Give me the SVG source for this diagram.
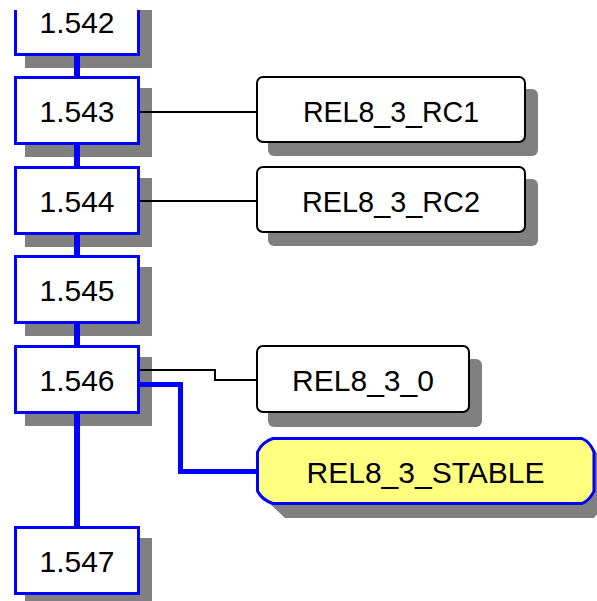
<svg xmlns="http://www.w3.org/2000/svg" width="597" height="601" viewBox="0 0 597 601">
  <defs>
    <clipPath id="view">
      <rect x="0" y="10" width="597" height="591"/>
    </clipPath>
    <style>
      .shadow { fill: #808080; }
      .rev { fill: #ffffff; stroke: #0000ff; stroke-width: 3; }
      .tag { fill: #ffffff; stroke: #000000; stroke-width: 2; }
      .branch { fill: #ffff80; stroke: #0000ff; stroke-width: 3; stroke-linejoin: round; }
      .label { font-family: "Liberation Sans", Arial, sans-serif; font-size: 30px; fill: #000000; text-anchor: middle; }
      .trunk { stroke: #0000ff; stroke-width: 6; fill: none; }
      .taglink { stroke: #000000; stroke-width: 2; fill: none; }
      .branchlink { stroke: #0000ff; stroke-width: 5; fill: none; }
    </style>
  </defs>
  <rect x="0" y="0" width="597" height="601" fill="#ffffff"/>
  <g clip-path="url(#view)">
    <!-- revisions -->
    <g id="rev-1.542">
      <rect class="shadow" x="25" y="-1" width="127" height="69"/>
      <rect class="rev" x="15.5" y="-11.5" width="123" height="66"/>
      <text class="label" x="77" y="33">1.542</text>
    </g>
    <g id="rev-1.543">
      <rect class="shadow" x="25" y="88" width="127" height="69"/>
      <rect class="rev" x="15.5" y="77.5" width="123" height="66"/>
      <text class="label" x="77" y="122">1.543</text>
    </g>
    <g id="rev-1.544">
      <rect class="shadow" x="25" y="178" width="127" height="69"/>
      <rect class="rev" x="15.5" y="167.5" width="123" height="66"/>
      <text class="label" x="77" y="212">1.544</text>
    </g>
    <g id="rev-1.545">
      <rect class="shadow" x="25" y="267" width="127" height="69"/>
      <rect class="rev" x="15.5" y="256.5" width="123" height="66"/>
      <text class="label" x="77" y="301">1.545</text>
    </g>
    <g id="rev-1.546">
      <rect class="shadow" x="25" y="357" width="127" height="69"/>
      <rect class="rev" x="15.5" y="346.5" width="123" height="66"/>
      <text class="label" x="77" y="391">1.546</text>
    </g>
    <g id="rev-1.547">
      <rect class="shadow" x="25" y="538" width="127" height="69"/>
      <rect class="rev" x="15.5" y="527.5" width="123" height="66"/>
      <text class="label" x="77" y="572">1.547</text>
    </g>

    <!-- tags -->
    <g id="tag-REL8_3_RC1">
      <rect class="shadow" x="268" y="89" width="270" height="67" rx="6"/>
      <rect class="tag" x="257" y="77" width="268" height="65" rx="6"/>
      <text class="label" x="391" y="122" textLength="176" lengthAdjust="spacingAndGlyphs">REL8_3_RC1</text>
    </g>
    <g id="tag-REL8_3_RC2">
      <rect class="shadow" x="268" y="179" width="270" height="67" rx="6"/>
      <rect class="tag" x="257" y="167" width="268" height="65" rx="6"/>
      <text class="label" x="391" y="212" textLength="178" lengthAdjust="spacingAndGlyphs">REL8_3_RC2</text>
    </g>
    <g id="tag-REL8_3_0">
      <rect class="shadow" x="268" y="359" width="214" height="68" rx="6"/>
      <rect class="tag" x="257" y="346" width="212" height="66" rx="6"/>
      <text class="label" x="363" y="391">REL8_3_0</text>
    </g>

    <!-- branch -->
    <g id="branch-REL8_3_STABLE">
      <path class="shadow" d="M285,449 H594 L607,465 V502 L594,518 H285 L268,502 V465 Z"/>
      <path class="branch" d="M273,438.5 H582 Q590,442 594,452 V491 Q590,500 582,503.5 H273 Q262,500 257.5,491 V452 Q262,442 273,438.5 Z"/>
      <text class="label" x="425.5" y="483">REL8_3_STABLE</text>
    </g>

    <!-- connectors, drawn over the drop shadows -->
    <g id="connectors" shape-rendering="crispEdges">
      <line class="trunk" x1="77" y1="56" x2="77" y2="76"/>
      <line class="trunk" x1="77" y1="145" x2="77" y2="166"/>
      <line class="trunk" x1="77" y1="234" x2="77" y2="255"/>
      <line class="trunk" x1="77" y1="323" x2="77" y2="345"/>
      <line class="trunk" x1="77" y1="413" x2="77" y2="526"/>
      <path class="taglink" d="M140,112 H256"/>
      <path class="taglink" d="M140,201 H256"/>
      <path class="taglink" d="M140,369.5 H215 V379.5 H256"/>
      <path class="branchlink" d="M140,384 H180.5 V471.5 H256"/>
    </g>
  </g>
</svg>
